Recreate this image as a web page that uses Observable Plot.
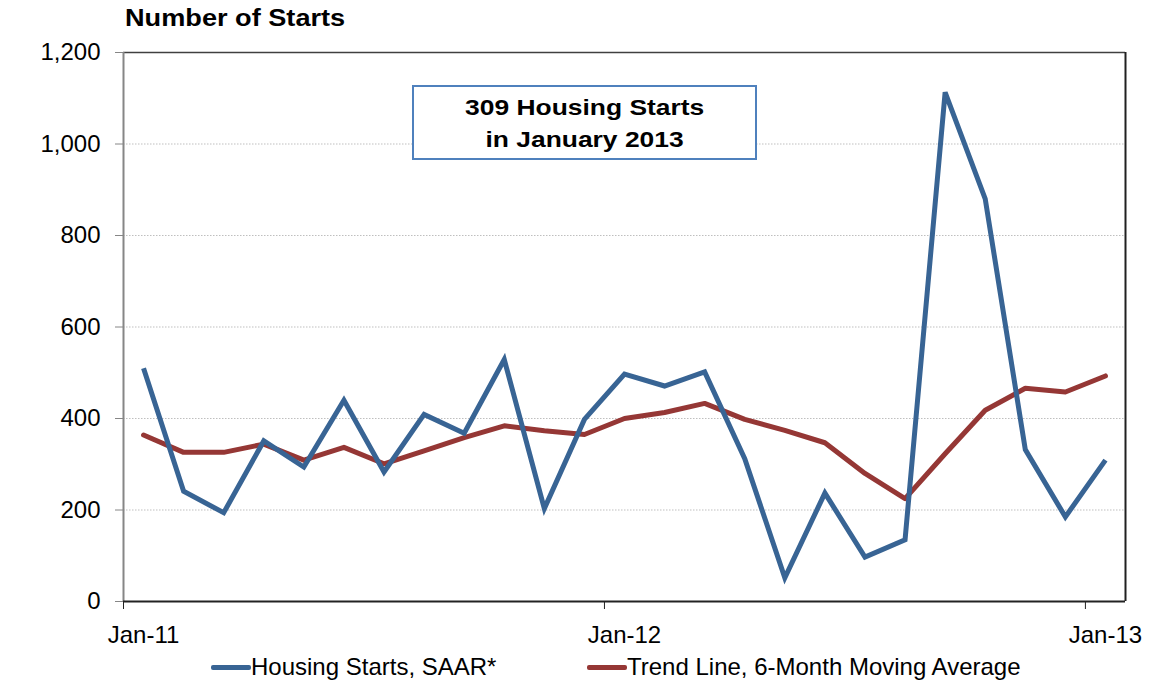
<!DOCTYPE html>
<html>
<head>
<meta charset="utf-8">
<script src="https://cdn.jsdelivr.net/npm/d3@7"></script>
<script src="https://cdn.jsdelivr.net/npm/@observablehq/plot@0.6"></script>
<style>
  html, body { margin: 0; padding: 0; background: #fff; }
  #wrap { position: relative; width: 1152px; height: 688px; font-family: "Liberation Sans", Arial, sans-serif; color: #000; }
  #chart { position: absolute; left: 0; top: 0; }
  #title { position: absolute; left: 125px; top: 7px; font-weight: bold; font-size: 23px; line-height: 23px; white-space: nowrap; transform: scaleX(1.18); transform-origin: left center; }
  #note { position: absolute; left: 412px; top: 85px; width: 345px; height: 75px; box-sizing: border-box; border: 2px solid #4f81bd; background: #fff; text-align: center; padding-top: 5px; font-weight: bold; font-size: 22px; line-height: 32px; }
  #note span { display: inline-block; transform: scaleX(1.2); white-space: nowrap; }
  .leg { position: absolute; top: 655px; height: 24px; font-size: 24px; line-height: 24px; white-space: nowrap; }
  .sw { position: absolute; top: 10px; width: 40px; height: 5px; border-radius: 2px; }
  .leg .lbl { position: absolute; left: 40px; top: 0; }
</style>
</head>
<body>
<div id="wrap">
  <div id="chart"></div>
  <div id="title"></div>
  <div id="note"></div>
  <div id="legend"></div>
</div>
<script>
// ---- data ----
const months = [
  "Jan-11","Feb-11","Mar-11","Apr-11","May-11","Jun-11","Jul-11","Aug-11","Sep-11","Oct-11","Nov-11","Dec-11",
  "Jan-12","Feb-12","Mar-12","Apr-12","May-12","Jun-12","Jul-12","Aug-12","Sep-12","Oct-12","Nov-12","Dec-12",
  "Jan-13"
];
const starts = [510, 241, 194, 351, 294, 440, 283, 409, 368, 529, 203, 398,
                497, 471, 502, 312, 52, 237, 97, 135, 1113, 880, 332, 185, 309];
const trend  = [364, 326, 326, 344, 309, 337, 301, 329, 358, 384, 373, 365,
                400, 413, 433, 398, 374, 347, 280, 225, 323, 418, 466, 458, 493];
const yTicks = [0, 200, 400, 600, 800, 1000, 1200];
const xTickLabels = ["Jan-11", "Jan-12", "Jan-13"];
const seriesNames = ["Housing Starts, SAAR*", "Trend Line, 6-Month Moving Average"];
const seriesColors = ["#386494", "#953735"];
const titleText = "Number of Starts";
const noteLines = ["309 Housing Starts", "in January 2013"];

// ---- chart ----
const labelIdx = xTickLabels.map(l => months.indexOf(l));
const n = months.length;

const chart = Plot.plot({
  width: 1152,
  height: 650,
  marginLeft: 123,
  marginRight: 27,
  marginTop: 52,
  marginBottom: 49,
  x: {domain: [-0.5, n - 0.5], axis: null},
  y: {domain: [0, 1200], axis: null},
  style: {fontFamily: "'Liberation Sans', Arial, sans-serif", fontSize: "24px", color: "#000", background: "#fff", overflow: "visible"},
  marks: [
    Plot.gridY(yTicks.filter(v => v > 0 && v < 1200), {stroke: "#bfbfbf", strokeOpacity: 1, strokeWidth: 1, strokeDasharray: "1.5,1.5"}),
    Plot.axisY({ticks: yTicks, tickSize: 8, tickPadding: 15, tickFormat: d3.format(","), stroke: "#868686", fill: "#000", fontSize: 24}),
    Plot.axisX({ticks: labelIdx.map(i => i - 0.5), tickSize: 8, tickFormat: () => "", stroke: "#222"}),
    Plot.axisX({ticks: labelIdx, tickSize: 0, tickPadding: 24, tickFormat: i => months[i], fill: "#000", fontSize: 24}),
    Plot.line(trend, {x: (d, i) => i, y: d => d, stroke: seriesColors[1], strokeWidth: 5, strokeLinejoin: "round", strokeLinecap: "round"}),
    Plot.line(starts, {x: (d, i) => i, y: d => d, stroke: seriesColors[0], strokeWidth: 5, strokeLinejoin: "miter", strokeMiterlimit: 4, strokeLinecap: "butt"}),
    Plot.ruleY([1200], {stroke: "#404040", strokeWidth: 1.5}),
    Plot.ruleX([n - 0.5], {stroke: "#202020", strokeWidth: 2}),
    Plot.ruleX([-0.5], {stroke: "#868686", strokeWidth: 2}),
    Plot.ruleY([0], {stroke: "#222", strokeWidth: 2})
  ]
});
document.getElementById("chart").appendChild(chart);

document.getElementById("title").textContent = titleText;
const note = document.getElementById("note");
noteLines.forEach((t, i) => {
  if (i) note.appendChild(document.createElement("br"));
  const s = document.createElement("span");
  s.textContent = t;
  note.appendChild(s);
});

const legendLefts = [211, 587];
const legend = document.getElementById("legend");
seriesNames.forEach((name, i) => {
  const item = document.createElement("div");
  item.className = "leg";
  item.style.left = legendLefts[i] + "px";
  const sw = document.createElement("div");
  sw.className = "sw";
  sw.style.background = seriesColors[i];
  const lbl = document.createElement("span");
  lbl.className = "lbl";
  lbl.textContent = name;
  item.appendChild(sw);
  item.appendChild(lbl);
  legend.appendChild(item);
});
</script>
</body>
</html>
